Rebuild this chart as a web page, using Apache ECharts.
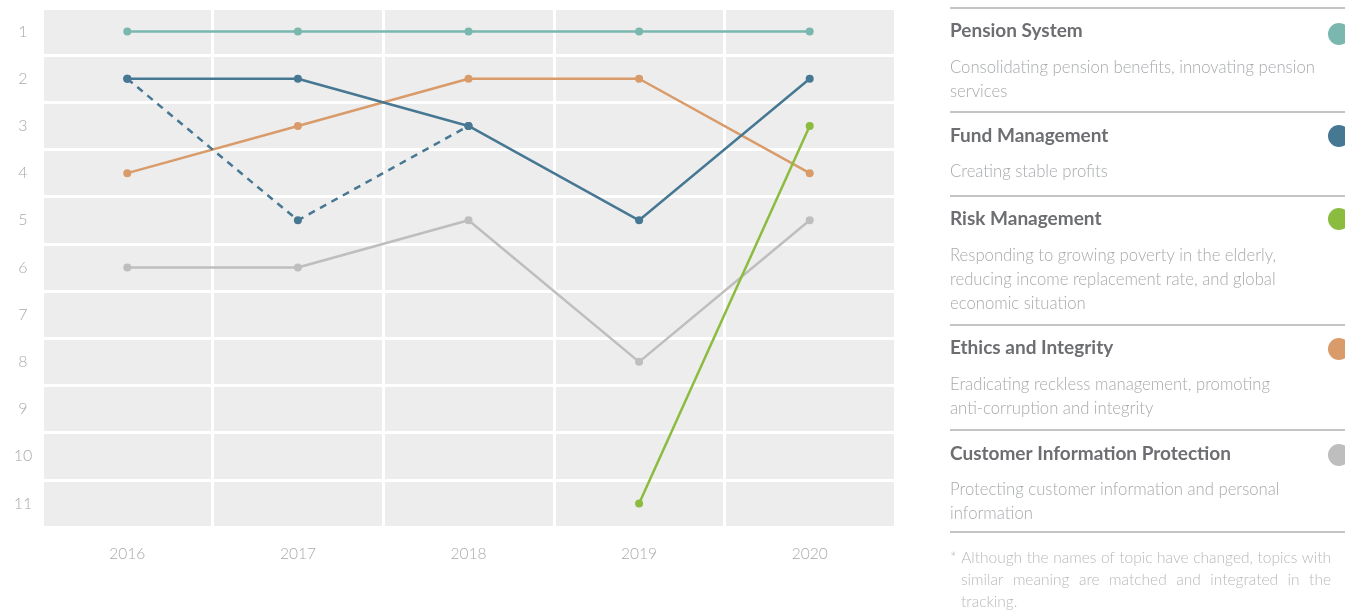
<!DOCTYPE html>
<html><head><meta charset="utf-8">
<script src="https://cdn.jsdelivr.net/npm/echarts@6/dist/echarts.min.js"></script>
<style>html,body{margin:0;padding:0;background:#fff}#c{width:1345px;height:610px}</style>
</head><body><div id="c"></div>
<script>
// ---- data ----
const years = ['2016', '2017', '2018', '2019', '2020'];
const rankLabels = ['1', '2', '3', '4', '5', '6', '7', '8', '9', '10', '11'];
const pensionSystem = [1, 1, 1, 1, 1];
const fundManagement = [2, 2, 3, 5, 2];
const fundManagementDashed = [2, 5, 3, null, null];
const riskManagement = [null, null, null, 11, 3];
const ethicsIntegrity = [4, 3, 2, 2, 4];
const customerInfo = [6, 6, 5, 8, 5];
const topicTitles = ['Pension System', 'Fund Management', 'Risk Management', 'Ethics and Integrity', 'Customer Information Protection'];
const topicDescs = [
  ['Consolidating pension benefits, innovating pension', 'services'],
  ['Creating stable profits'],
  ['Responding to growing poverty in the elderly,', 'reducing income replacement rate, and global', 'economic situation'],
  ['Eradicating reckless management, promoting', 'anti-corruption and integrity'],
  ['Protecting customer information and personal', 'information']
];
const footnoteLines = ['* Although the names of topic have changed, topics with', 'similar meaning are matched and integrated in the', 'tracking.'];

const C = { teal: '#7ab7ae', blue: '#477893', green: '#8bbb3f', orange: '#d99b69', gray: '#bebebe' };
const topicColors = [C.teal, C.blue, C.green, C.orange, C.gray];
const FONT = 'Lato';

function pts(arr) {
  const out = [];
  arr.forEach((r, i) => { if (r != null) out.push([years[i], String(r)]); });
  return out;
}
function lineSeries(name, arr, color, dashed) {
  return {
    name, type: 'line', data: pts(arr), symbol: 'circle', symbolSize: 8,
    lineStyle: { color, width: 2.5, type: dashed ? [7, 6] : 'solid' },
    itemStyle: { color }, z: 3
  };
}

// ---- right panel graphics ----
const graphics = [];
const ruleYs = [8, 112, 196, 325, 430, 532];
ruleYs.forEach(y => graphics.push({ type: 'line', shape: { x1: 950, y1: y, x2: 1345, y2: y }, style: { stroke: '#c4c4c6', lineWidth: 2 } }));
const titleYs = [31, 136, 219, 348, 454];
const descStart = [68, 172, 256, 385, 490];
const circleYs = [34, 136, 219, 349, 455];
topicTitles.forEach((t, i) => {
  graphics.push({ type: 'text', x: 950, y: titleYs[i], style: { text: t, fill: '#6d6e71', font: 'bold 19px ' + FONT, textAlign: 'left', textVerticalAlign: 'middle' } });
  topicDescs[i].forEach((d, j) => {
    graphics.push({ type: 'text', x: 950, y: descStart[i] + j * 24, style: { text: d, fill: '#a7a9ac', font: '300 16.7px ' + FONT, textAlign: 'left', textVerticalAlign: 'middle' } });
  });
  graphics.push({ type: 'circle', shape: { cx: 1339, cy: circleYs[i], r: 11 }, style: { fill: topicColors[i] } });
});
// footnote, justified
const fnFont = '300 15.5px ' + FONT;
const meas = document.createElement('canvas').getContext('2d');
meas.font = fnFont;
const fnYs = [558, 580, 602];
footnoteLines.forEach((line, li) => {
  const x0 = li === 0 ? 950 : 961, x1 = 1331;
  const words = line.split(' ');
  if (li === footnoteLines.length - 1 || words.length < 2) {
    graphics.push({ type: 'text', x: x0, y: fnYs[li], style: { text: line, fill: '#b9b9bb', font: fnFont, textAlign: 'left', textVerticalAlign: 'middle' } });
    return;
  }
  const widths = words.map(w => meas.measureText(w).width);
  const total = widths.reduce((a, b) => a + b, 0);
  const gap = (x1 - x0 - total) / (words.length - 1);
  let x = x0;
  words.forEach((w, k) => {
    graphics.push({ type: 'text', x: x, y: fnYs[li], style: { text: w, fill: '#b9b9bb', font: fnFont, textAlign: 'left', textVerticalAlign: 'middle' } });
    x += widths[k] + gap;
  });
});

const chart = echarts.init(document.getElementById('c'), null, { renderer: 'canvas' });
chart.setOption({
  animation: false,
  backgroundColor: '#ffffff',
  grid: { left: 42, right: 450, top: 8, bottom: 83, show: true, backgroundColor: '#ededed', borderWidth: 0 },
  xAxis: {
    type: 'category', data: years, boundaryGap: true,
    axisLine: { show: false }, axisTick: { show: false },
    axisLabel: { color: '#a7a9ac', fontFamily: FONT, fontWeight: 300, fontSize: 15.5, margin: 19 },
    splitLine: { show: true, interval: 0, lineStyle: { color: '#ffffff', width: 3 } }
  },
  yAxis: {
    type: 'category', data: rankLabels, inverse: true, boundaryGap: true,
    axisLine: { show: false }, axisTick: { show: false },
    axisLabel: { color: '#a7a9ac', fontFamily: FONT, fontWeight: 300, fontSize: 16, margin: 19, align: 'center' },
    splitLine: { show: true, interval: 0, lineStyle: { color: '#ffffff', width: 3 } }
  },
  series: [
    lineSeries('Customer Information Protection', customerInfo, C.gray),
    lineSeries('Ethics and Integrity', ethicsIntegrity, C.orange),
    lineSeries('Pension System', pensionSystem, C.teal),
    lineSeries('Fund Management', fundManagement, C.blue),
    lineSeries('Fund Management (previous)', fundManagementDashed, C.blue, true),
    lineSeries('Risk Management', riskManagement, C.green)
  ],
  graphic: graphics
});
</script>
</body></html>
